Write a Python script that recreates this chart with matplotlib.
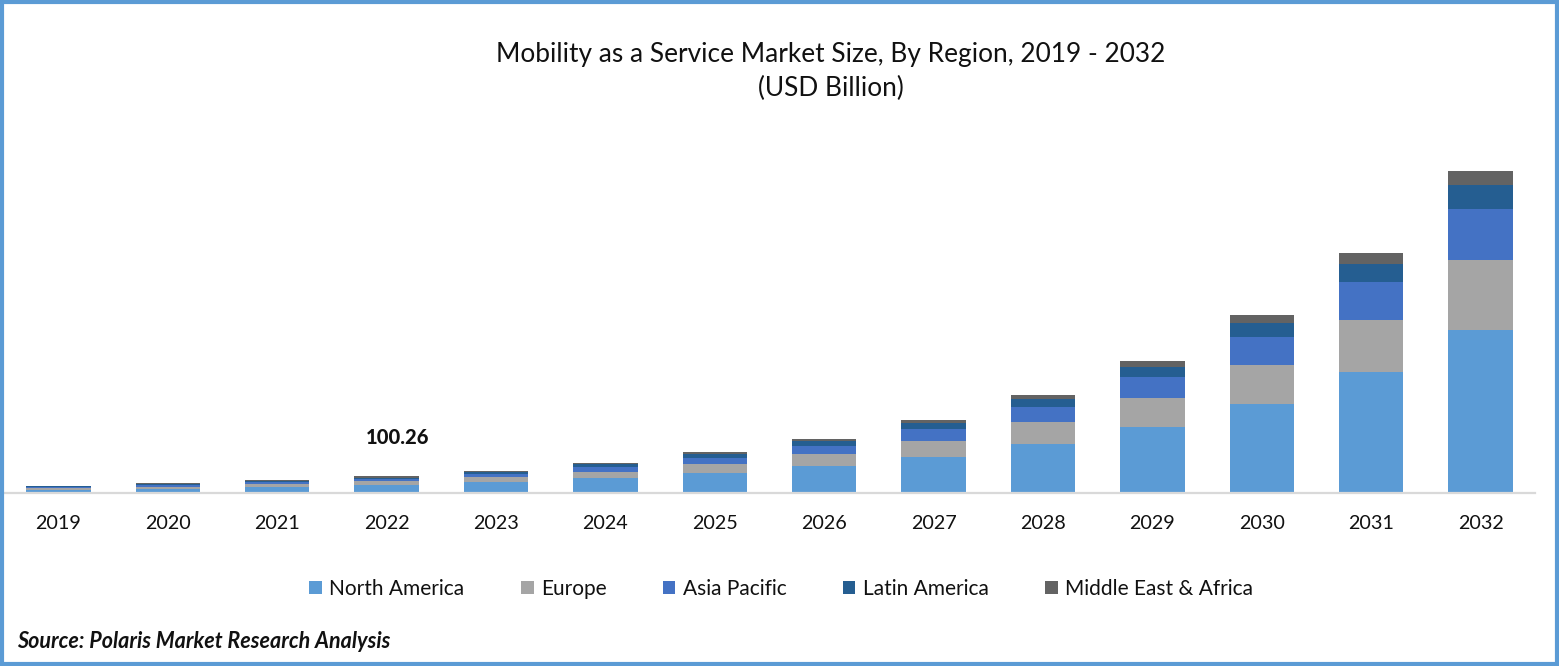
import matplotlib
matplotlib.use("Agg")
import matplotlib.pyplot as plt
from matplotlib.patches import Rectangle
import numpy as np

years = list(range(2019, 2033))
north_america = [14.4, 18.8, 29.5, 43.9, 62.7, 87.8, 119.1, 163.0, 219.5, 301.0, 407.6, 551.8, 752.4, 1015.7]
europe = [10.7, 12.5, 20.7, 25.1, 29.5, 37.6, 56.4, 75.2, 100.3, 137.9, 181.8, 244.5, 326.0, 438.9]
asia_pacific = [6.3, 12.5, 12.5, 12.5, 20.7, 31.4, 37.6, 50.2, 75.2, 94.1, 131.7, 175.6, 238.3, 319.8]
latin_america = [3.1, 6.3, 6.3, 9.4, 12.5, 18.8, 25.1, 31.4, 37.6, 50.2, 62.7, 87.8, 112.9, 150.5]
middle_east = [3.1, 6.3, 6.3, 9.36, 6.3, 6.3, 12.5, 12.5, 18.8, 25.1, 37.6, 50.2, 69.0, 87.8]
series = [("North America", north_america, "#5B9BD5"),
          ("Europe", europe, "#A5A5A5"),
          ("Asia Pacific", asia_pacific, "#4472C4"),
          ("Latin America", latin_america, "#255E91"),
          ("Middle East & Africa", middle_east, "#636363")]
title_text = "Mobility as a Service Market Size, By Region, 2019 - 2032\n(USD Billion)"
callout = "100.26"
source = "Source: Polaris Market Research Analysis"

W, H = 1559, 666
plt.rcParams["font.family"] = ["Lato", "DejaVu Sans"]
fig = plt.figure(figsize=(W/100, H/100), dpi=100, facecolor="white")
ax = fig.add_axes([3.7/W, (H-492)/H, 1531.6/W, 335/H])
for s in ["top", "left", "right"]:
    ax.spines[s].set_visible(False)
ax.spines["bottom"].set_position(("outward", 0.8))
ax.spines["bottom"].set_color("#D9D9D9")
ax.spines["bottom"].set_linewidth(1.6)
x = np.arange(len(years))
bottom = np.zeros(len(years))
handles = []
for name, vals, col in series:
    b = ax.bar(x, vals, width=0.59, bottom=bottom, color=col, label=name, linewidth=0)
    handles.append(b)
    bottom += np.array(vals)
ax.set_xlim(-0.5, len(years)-0.5)
ax.set_ylim(0, 335*6.27)
ax.set_yticks([])
ax.set_xticks(x, [str(y) for y in years], fontsize=14.2, color="#111111")
ax.tick_params(axis="x", length=0, pad=15.5)

ax.annotate(callout, xy=(3, 100.26), xytext=(397.5/W, (H-437)/H), textcoords="figure fraction",
            ha="center", va="center", fontsize=14.5, fontweight="black", color="#111111")
fig.text(831/W, (H-71.5)/H, title_text, ha="center", va="center", fontsize=18.95,
         color="#111111", linespacing=1.42)
leg = fig.legend(handles=handles, loc="center", bbox_to_anchor=(781/W, (H-589)/H), ncol=5, frameon=False,
                 fontsize=15, handlelength=0.62, handleheight=0.62, handletextpad=0.34, columnspacing=2.7,
                 labelcolor="#111111", borderpad=0)
fig.text(17/W, (H-642)/H, source, ha="left", va="center", fontsize=15.5, fontweight="bold",
         fontstyle="italic", color="#111111")
fig.add_artist(Rectangle((2/W, 2/H), (W-4)/W, (H-4)/H, transform=fig.transFigure, fill=False,
                         edgecolor="#5B9BD5", linewidth=3))
fig.savefig("out.png", dpi=100)
